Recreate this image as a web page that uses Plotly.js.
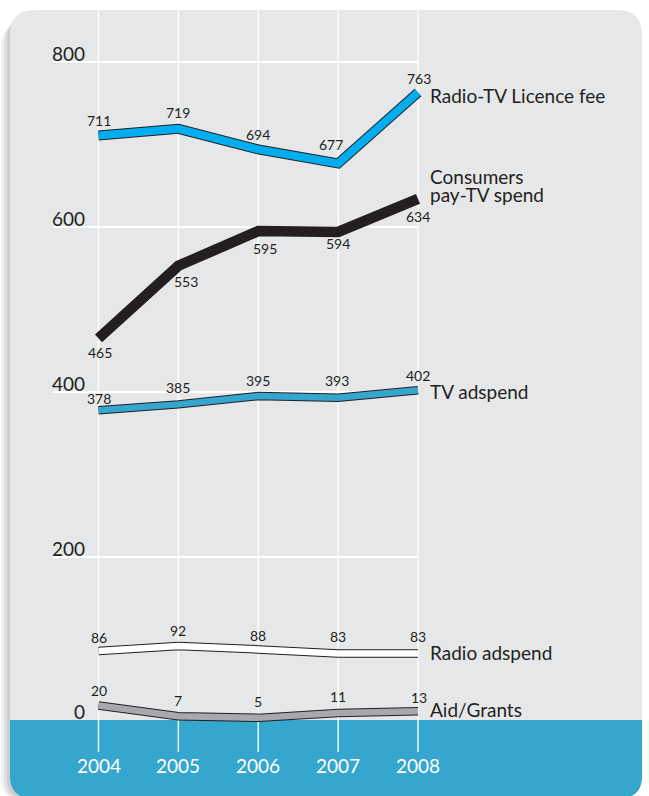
<!DOCTYPE html>
<html>
<head>
<meta charset="utf-8">
<script src="https://cdn.plot.ly/plotly-3.0.1.min.js"></script>
<style>html,body{margin:0;padding:0;background:#fff;}#chart{width:649px;height:796px;}</style>
</head>
<body>
<div id="chart"></div>
<script>
// ---- data ----
const years = [2004, 2005, 2006, 2007, 2008];
const licenceFee = [711, 719, 694, 677, 763];
const payTVSpend = [465, 553, 595, 594, 634];
const tvAdspend = [378, 385, 395, 393, 402];
const radioAdspend = [86, 92, 88, 83, 83];
const aidGrants = [20, 7, 5, 11, 13];
const yTickValues = [0, 200, 400, 600, 800];
const yTickLabels = ['0', '200', '400', '600', '800'];
const xTickLabels = ['2004', '2005', '2006', '2007', '2008'];
const seriesLabels = {
  licence: ['Radio-TV Licence fee'],
  paytv: ['Consumers', 'pay-TV spend'],
  tv: ['TV adspend'],
  radio: ['Radio adspend'],
  aid: ['Aid/Grants']
};

// ---- label placement (pixel offsets, style only) ----
const labelOffsets = {
  licence: {dy: [15, 16, 15, 19, 14], dx: [0, 0, 0, -7, 1]},
  paytv:   {dy: [-14, -16, -17, -12, -18], dx: [1, 8, 7, 0, 0]},
  tv:      {dy: [12, 17, 16, 17, 15], dx: [0, 0, 0, -1, 0]},
  radio:   {dy: [14, 16, 14, 17, 17], dx: [0, 0, 0, 0, 0]},
  aid:     {dy: [15, 16, 16, 16, 14], dx: [0, 0, 0, 0, 1]}
};

// ---- layout geometry (pixels) ----
const W = 649, H = 796;
const X2004 = 98.5, PX_PER_YEAR = 79.875;
const Y_TOP_PX = 62, Y_TOP_VAL = 800, PX_PER_UNIT = 0.825;
const xMin = 2004 - X2004 / PX_PER_YEAR;
const xMax = xMin + W / PX_PER_YEAR;
const yMax = Y_TOP_VAL + Y_TOP_PX / PX_PER_UNIT;
const yMin = yMax - H / PX_PER_UNIT;
const valFromPy = py => yMax - py / PX_PER_UNIT;
const yearFromPx = px => xMin + px / PX_PER_YEAR;
const px2p = (px, py) => (px / W).toFixed(5) + ',' + (1 - py / H).toFixed(5);

function rr(x0, y0, x1, y1, rt, rb) {
  return 'M' + px2p(x0, y0 + rt) +
    ' Q' + px2p(x0, y0) + ' ' + px2p(x0 + rt, y0) +
    ' L' + px2p(x1 - rt, y0) +
    ' Q' + px2p(x1, y0) + ' ' + px2p(x1, y0 + rt) +
    ' L' + px2p(x1, y1 - rb) +
    ' Q' + px2p(x1, y1) + ' ' + px2p(x1 - rb, y1) +
    ' L' + px2p(x0 + rb, y1) +
    ' Q' + px2p(x0, y1) + ' ' + px2p(x0, y1 - rb) + ' Z';
}

const INK = '#231f20';
const FONT = 'Lato, "Open Sans", sans-serif';
const PANEL = '#e6e7e8';
const BAND = '#35a6cd';

const shapes = [];
// shadow
[[1, 0.06], [4, 0.07], [7, 0.08]].forEach(([off, a]) => {
  shapes.push({type: 'path', xref: 'paper', yref: 'paper', layer: 'below',
    path: rr(off, 10 + (10 - off) * 1.5, 636, 800, 25, 22),
    fillcolor: 'rgba(0,0,0,' + a + ')', line: {width: 0}});
});
// panel
shapes.push({type: 'path', xref: 'paper', yref: 'paper', layer: 'below',
  path: rr(10, 10, 642, 798, 25, 22), fillcolor: PANEL, line: {width: 0}});
// bottom band
shapes.push({type: 'path', xref: 'paper', yref: 'paper', layer: 'below',
  path: 'M' + px2p(10, 720) + ' L' + px2p(642, 720) + ' L' + px2p(642, 776) +
    ' Q' + px2p(642, 798) + ' ' + px2p(620, 798) + ' L' + px2p(32, 798) +
    ' Q' + px2p(10, 798) + ' ' + px2p(10, 776) + ' Z',
  fillcolor: BAND, line: {width: 0}});
// vertical gridlines
years.forEach(yr => {
  shapes.push({type: 'line', xref: 'x', yref: 'y', layer: 'below',
    x0: yr, x1: yr, y0: valFromPy(752), y1: valFromPy(10),
    line: {color: '#ffffff', width: 1.4}});
});
// horizontal gridlines
yTickValues.filter(v => v > 0).forEach(v => {
  shapes.push({type: 'line', xref: 'x', yref: 'y', layer: 'below',
    x0: yearFromPx(53), x1: years[years.length - 1], y0: v, y1: v,
    line: {color: '#ffffff', width: 2}});
});

// ---- traces ----
const traces = [];
function addSeries(vals, color, width, outline) {
  if (outline) {
    traces.push({x: years, y: vals, mode: 'lines', hoverinfo: 'skip',
      line: {color: INK, width: width + 2}});
  }
  traces.push({x: years, y: vals, mode: 'lines', hoverinfo: 'skip',
    line: {color: color, width: width}});
}
addSeries(licenceFee, '#00aeef', 8, true);
addSeries(payTVSpend, INK, 10.5, false);
addSeries(tvAdspend, BAND, 6.5, true);
addSeries(radioAdspend, '#ffffff', 6.5, true);
addSeries(aidGrants, '#a7a9ac', 6.5, true);

// ---- annotations ----
const annotations = [];
function valueLabels(vals, off) {
  vals.forEach((v, i) => {
    annotations.push({x: years[i], y: v, text: String(v), showarrow: false,
      xanchor: 'center', yanchor: 'middle', yshift: off.dy[i], xshift: off.dx[i],
      font: {family: FONT, size: 14, color: INK}});
  });
}
valueLabels(licenceFee, labelOffsets.licence);
valueLabels(payTVSpend, labelOffsets.paytv);
valueLabels(tvAdspend, labelOffsets.tv);
valueLabels(radioAdspend, labelOffsets.radio);
valueLabels(aidGrants, labelOffsets.aid);

function nameLabel(lines, pyCentres) {
  lines.forEach((t, i) => {
    annotations.push({xref: 'paper', x: 428 / W, yref: 'y', y: valFromPy(pyCentres[i]),
      text: t, showarrow: false, xanchor: 'left', yanchor: 'middle',
      font: {family: FONT, size: 19, color: INK}});
  });
}
nameLabel(seriesLabels.licence, [95]);
nameLabel(seriesLabels.paytv, [176, 194]);
nameLabel(seriesLabels.tv, [391]);
nameLabel(seriesLabels.radio, [652]);
nameLabel(seriesLabels.aid, [709]);

// y tick labels
yTickValues.forEach((v, i) => {
  annotations.push({xref: 'paper', x: 87 / W, y: v, text: yTickLabels[i], showarrow: false,
    xanchor: 'right', yanchor: 'middle', yshift: v === 0 ? 11 : 9,
    font: {family: FONT, size: 19, color: INK}});
});
// x tick labels
years.forEach((yr, i) => {
  annotations.push({x: yr, y: valFromPy(765), text: xTickLabels[i], showarrow: false,
    xanchor: 'center', yanchor: 'middle',
    font: {family: FONT, size: 19, color: '#ffffff'}});
});

const layout = {
  width: W, height: H,
  margin: {l: 0, r: 0, t: 0, b: 0, pad: 0},
  paper_bgcolor: '#ffffff', plot_bgcolor: 'rgba(0,0,0,0)',
  showlegend: false,
  xaxis: {range: [xMin, xMax], visible: false, fixedrange: true},
  yaxis: {range: [yMin, yMax], visible: false, fixedrange: true},
  shapes: shapes,
  annotations: annotations
};

Plotly.newPlot('chart', traces, layout, {staticPlot: true, displayModeBar: false});
</script>
</body>
</html>
